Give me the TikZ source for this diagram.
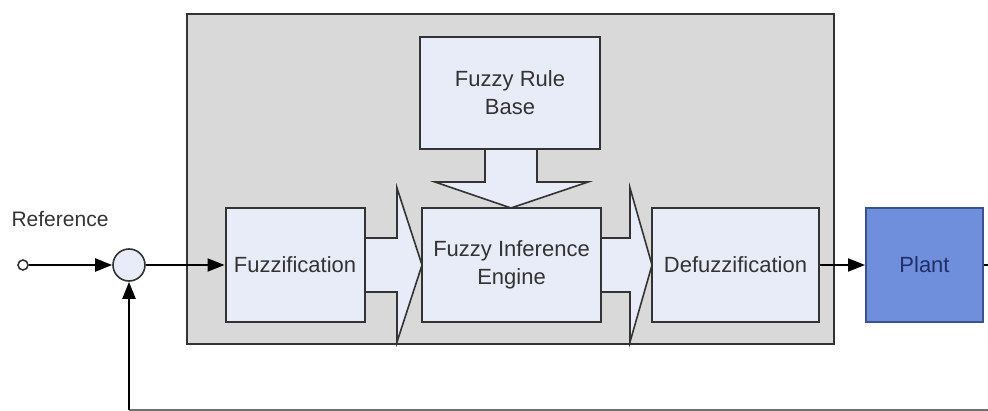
\documentclass[tikz,border=0pt]{standalone}
\usepackage{fontspec}
\setmainfont{Liberation Sans}
\usetikzlibrary{arrows.meta}

\definecolor{panelgray}{HTML}{D9D9D9}
\definecolor{blockfill}{HTML}{E8ECF8}
\definecolor{plantfill}{HTML}{6F8FDC}
\definecolor{plantedge}{HTML}{3A5390}
\definecolor{planttext}{HTML}{1F2F6A}
\definecolor{edgegray}{HTML}{333333}

\begin{document}
\begin{tikzpicture}[x=0.5pt,y=-0.5pt,
    block/.style={draw=edgegray,line width=1pt,fill=blockfill,align=center,
      text=edgegray,font=\fontsize{11}{14}\selectfont,inner sep=0pt,
      minimum height=57pt},
    fatarrow/.style={draw=edgegray,line width=0.8pt,fill=blockfill,line join=miter},
    signal/.style={line width=1pt,-{Triangle[length=8.5pt,width=6.5pt]}}]
    \useasboundingbox (0,0) rectangle (988,411);

    % controller panel
    \draw[draw=edgegray,line width=1pt,fill=panelgray] (187,14) rectangle (834,344);

    % block arrows
    \draw[fatarrow] (364,238) -- (397,238) -- (397,188) -- (422,265)
        -- (397,342) -- (397,292) -- (364,292) -- cycle;
    \draw[fatarrow] (601,238) -- (630,238) -- (630,188) -- (652,265)
        -- (630,342) -- (630,292) -- (601,292) -- cycle;
    \draw[fatarrow] (485,149) -- (485,182) -- (435,182) -- (511,208)
        -- (588,182) -- (537,182) -- (537,149) -- cycle;

    % blocks
    \node[block,minimum width=90pt,minimum height=56pt] (rules) at (510,93) {Fuzzy Rule\\Base};
    \node[block,minimum width=69.5pt] (fuzz) at (295,265) {Fuzzification};
    \node[block,minimum width=89.5pt] (engine) at (511.5,265) {Fuzzy Inference\\Engine};
    \node[block,minimum width=83.5pt] (defuzz) at (735.5,265) {Defuzzification};
    \node[block,minimum width=58.5pt,fill=plantfill,draw=plantedge,text=planttext] (plant) at (924.5,265) {Plant};

    % summing point and input
    \node[circle,draw=edgegray,line width=0.8pt,fill=blockfill,minimum size=16pt,inner sep=0pt] (sum) at (129,265) {};
    \node[circle,draw=edgegray,line width=0.8pt,fill=white,minimum size=5pt,inner sep=0pt] (ref) at (23,265) {};
    \node[text=edgegray,font=\fontsize{10.5}{12}\selectfont] (reflabel) at (60,219) {Reference};

    \coordinate (out) at (990,265);
    \coordinate (back) at (990,410);
    \coordinate (corner) at (129,410);

    % signals
    \draw[signal] (ref) -- (sum);
    \draw[signal] (sum) -- (fuzz);
    \draw[signal] (defuzz) -- (plant);
    \draw[line width=1pt] (plant) -- (out);
    \draw[line width=1pt,draw=edgegray!70] (back) -- (corner);
    \draw[signal] (corner) -- (sum);
  \end{tikzpicture}
\end{document}
